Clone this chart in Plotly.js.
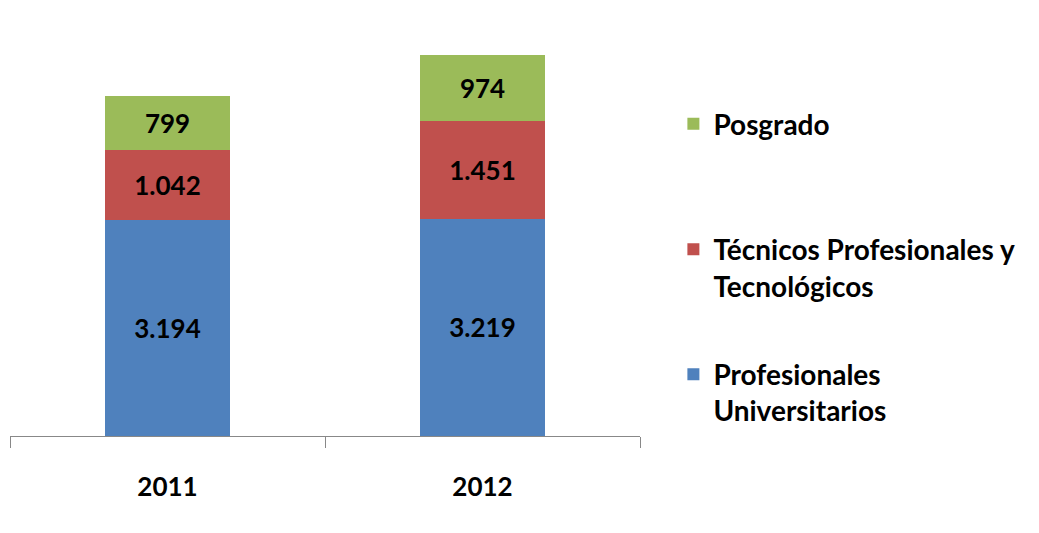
<!DOCTYPE html>
<html>
<head>
<meta charset="utf-8">
<script src="https://cdn.plot.ly/plotly-3.0.1.min.js"></script>
<style>html,body{margin:0;padding:0;background:#fff;}#chart{width:1039px;height:533px;}</style>
</head>
<body>
<div id="chart"></div>
<script>
const years = ["2011", "2012"];
const profesionales = [3194, 3219];
const tecnicos = [1042, 1451];
const posgrado = [799, 974];
const seriesNames = ["Profesionales<br>Universitarios", "Técnicos Profesionales y<br>Tecnológicos", "Posgrado"];
const seriesColors = ["#4F81BD", "#C0504D", "#9BBB59"];

function fmt(v) { return String(v).replace(/\B(?=(\d{3})+(?!\d))/g, "."); }

const FONT = "Lato, 'Open Sans', sans-serif";
const seriesVals = [profesionales, tecnicos, posgrado];
const legendIds = ["legend3", "legend2", "legend"];

const traces = seriesVals.map((vals, i) => ({
  type: "bar",
  x: years,
  y: vals,
  name: seriesNames[i],
  marker: {color: seriesColors[i]},
  text: vals.map(fmt),
  textposition: "inside",
  insidetextanchor: "middle",
  textangle: 0,
  constraintext: "none",
  textfont: {family: FONT, size: 26, color: "#000", weight: "bold"},
  hoverinfo: "none",
  legend: legendIds[i]
}));

const legFont = {family: FONT, size: 28, color: "#000", weight: "bold"};
const legBase = {xanchor: "left", yanchor: "top", font: legFont, bgcolor: "rgba(0,0,0,0)", itemwidth: 30, valign: "top"};
const layout = {
  width: 1039, height: 533,
  margin: {l: 10, r: 399, t: 20, b: 97},
  barmode: "stack",
  bargap: 0.603,
  paper_bgcolor: "#fff",
  plot_bgcolor: "#fff",
  showlegend: true,
  xaxis: {
    type: "category",
    showline: true, linecolor: "#888", linewidth: 1,
    ticks: "outside", tickson: "boundaries", ticklen: 11, tickcolor: "#888",
    tickfont: {family: FONT, size: 26, color: "#000", weight: "bold"},
    ticklabelstandoff: 28,
    showgrid: false, zeroline: false, fixedrange: true
  },
  yaxis: {range: [0, 6163], visible: false, showgrid: false, zeroline: false, fixedrange: true},
  legend: Object.assign({x: 1.053, y: 0.81}, legBase),
  legend2: Object.assign({x: 1.053, y: 0.508}, legBase),
  legend3: Object.assign({x: 1.053, y: 0.208}, legBase)
};

Plotly.newPlot("chart", traces, layout, {displayModeBar: false, staticPlot: true});
</script>
</body>
</html>
